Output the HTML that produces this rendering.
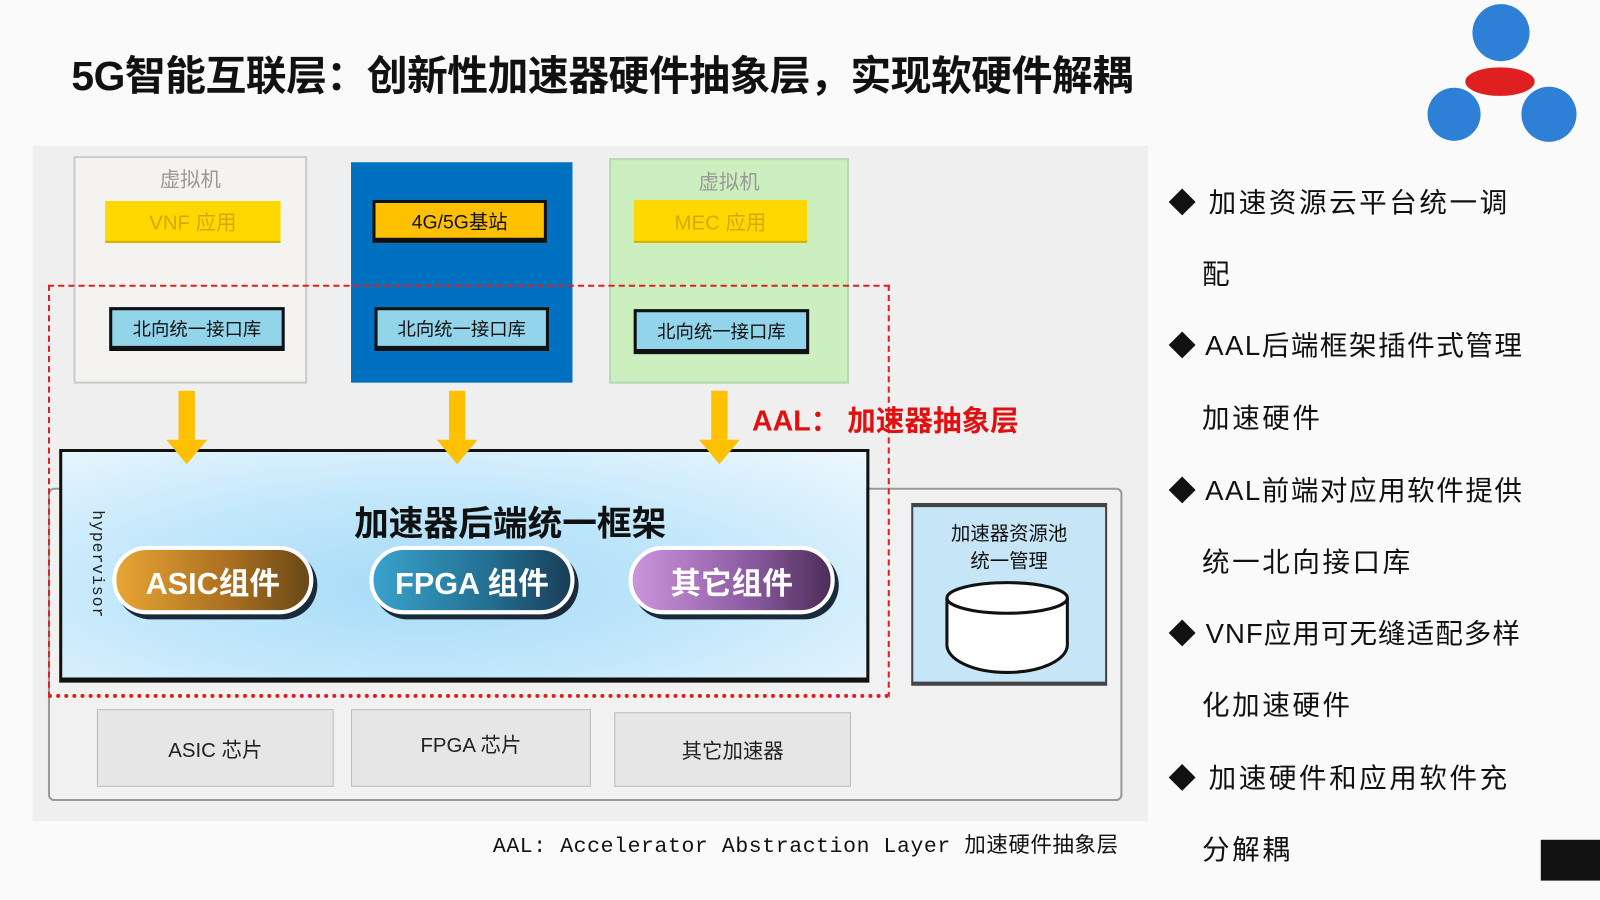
<!DOCTYPE html>
<html><head><meta charset="utf-8"><style>
body{margin:0;width:1600px;height:900px;overflow:hidden;background:#fafafa;font-family:"Liberation Sans","Noto Sans CJK SC",sans-serif}
#w{position:absolute;left:0;top:0;width:1568px;height:882px;transform:scale(1.0204);transform-origin:0 0}
.a{position:absolute;box-sizing:border-box}
.c{display:flex;align-items:center;justify-content:center;text-align:center}
.nb{background:#92d5ea;border:3px solid #111;border-bottom-width:5px;font-size:18px;color:#111}
.pill{border:4px solid #fff;border-radius:34px;color:#fff;font-weight:bold;font-size:30px;box-shadow:4px 5px 0 #1a2a3a}
.chip{background:#e6e6e6;border:1px solid #bbb;font-size:20px;color:#222}
.bl{position:absolute;left:1145px;font-size:27px;color:#111;white-space:nowrap;letter-spacing:2.5px}
</style></head><body><div id="w">
<div class="a" style="left:70px;top:42px;font-size:40px;font-weight:bold;color:#111;white-space:nowrap;letter-spacing:-0.5px">5G智能互联层：创新性加速器硬件抽象层，实现软硬件解耦</div>

<div class="a" style="left:32px;top:143px;width:1093px;height:662px;background:#efefef"></div>
<div class="a" style="left:47px;top:478px;width:1053px;height:307px;border:2px solid #999;border-radius:6px;background:#f1f1f1"></div>

<div class="a" style="left:72px;top:153px;width:229px;height:223px;background:#f5f3f0;border:2px solid #ccc"></div>
<div class="a c" style="left:72px;top:160px;width:229px;font-size:20px;color:#999">虚拟机</div>
<div class="a c" style="left:103px;top:197px;width:172px;height:41px;background:#ffd800;color:#d9a800;font-size:20px;border-bottom:2px solid #d4b000">VNF 应用</div>
<div class="a c nb" style="left:107px;top:301px;width:172px;height:43px">北向统一接口库</div>

<div class="a" style="left:344px;top:159px;width:217px;height:216px;background:#0070c0"></div>
<div class="a c" style="left:365px;top:196px;width:171px;height:42px;background:#ffc000;border:3px solid #111;border-bottom-width:5px;font-size:19px;color:#111">4G/5G基站</div>
<div class="a c nb" style="left:367px;top:301px;width:171px;height:43px">北向统一接口库</div>

<div class="a" style="left:597px;top:155px;width:235px;height:221px;background:#ccefc0;border:2px solid #b8d8b0"></div>
<div class="a c" style="left:597px;top:162px;width:235px;font-size:20px;color:#999">虚拟机</div>
<div class="a c" style="left:621px;top:196px;width:170px;height:42px;background:#ffd800;color:#d9a800;font-size:20px;border-bottom:2px solid #d4b000">MEC 应用</div>
<div class="a c nb" style="left:621px;top:303px;width:172px;height:44px">北向统一接口库</div>

<div class="a" style="left:47px;top:279px;width:825px;height:405px;border:2px dashed #e02020;border-bottom:4px dotted #e02020"></div>

<div class="a" style="left:58px;top:440px;width:794px;height:229px;border:3px solid #111;border-bottom-width:5px;background:radial-gradient(ellipse at 45% 60%,#a6dbf8 0%,#c4e8fb 50%,#eef8fe 100%)"></div>
<div class="a c" style="left:58px;top:486px;width:884px;font-size:34px;font-weight:bold;color:#111">加速器后端统一框架</div>
<div class="a" style="left:86px;top:500px;writing-mode:vertical-rl;font-family:'Liberation Mono',monospace;font-size:16px;color:#222;letter-spacing:1px">hypervisor</div>
<div class="a c pill" style="left:110px;top:535px;width:197px;height:67px;background:linear-gradient(90deg,#e8a434,#a86e20 60%,#6a4818)">ASIC组件</div>
<div class="a c pill" style="left:362px;top:535px;width:201px;height:67px;background:linear-gradient(90deg,#3aa2cc,#226e90 60%,#1a3e58)">FPGA 组件</div>
<div class="a c pill" style="left:616px;top:535px;width:202px;height:67px;background:linear-gradient(90deg,#cc94dc,#8a5aa0 60%,#4c2e58)">其它组件</div>

<div class="a" style="left:893px;top:493px;width:192px;height:179px;background:#c6e6f8;border:2px solid #444;border-top-width:4px;border-bottom-width:4px"></div>
<div class="a c" style="left:893px;top:510px;width:192px;font-size:19px;line-height:27px;color:#111">加速器资源池<br>统一管理</div>

<svg class="a" style="left:0;top:0" width="1568" height="882">
<g fill="#ffc000">
<rect x="175" y="383" width="16" height="48"/><polygon points="163,431 203,431 183,455"/>
<rect x="440" y="383" width="16" height="48"/><polygon points="428,431 468,431 448,455"/>
<rect x="697" y="383" width="16" height="48"/><polygon points="685,431 725,431 705,455"/>
</g>
<ellipse cx="987" cy="632" rx="59" ry="27" fill="#fff" stroke="#111" stroke-width="3"/>
<rect x="928" y="586" width="118" height="46" fill="#fff"/>
<line x1="928" y1="586" x2="928" y2="632" stroke="#111" stroke-width="3"/>
<line x1="1046" y1="586" x2="1046" y2="632" stroke="#111" stroke-width="3"/>
<ellipse cx="987" cy="586" rx="59" ry="15" fill="#fff" stroke="#111" stroke-width="3"/>
<circle cx="1471" cy="32" r="28" fill="#2e7fd6"/>
<ellipse cx="1470" cy="80" rx="34" ry="14" fill="#e02020"/>
<circle cx="1425" cy="112" r="26" fill="#2e7fd6"/>
<circle cx="1518" cy="112" r="27" fill="#2e7fd6"/>
<rect x="1510" y="823" width="58" height="40" fill="#111"/>
</svg>
<div class="a" style="left:737px;top:391px;font-size:28px;font-weight:bold;color:#e01010;white-space:nowrap">AAL： 加速器抽象层</div>

<div class="a c chip" style="left:95px;top:695px;width:232px;height:76px">ASIC 芯片</div>
<div class="a c chip" style="left:344px;top:695px;width:235px;height:76px;padding-bottom:10px">FPGA 芯片</div>
<div class="a c chip" style="left:602px;top:698px;width:232px;height:73px">其它加速器</div>

<div class="a" style="left:483px;top:812px;font-family:'Liberation Mono','Noto Sans CJK SC',monospace;font-size:21px;letter-spacing:0.6px;color:#111;white-space:nowrap">AAL: Accelerator Abstraction Layer 加速硬件抽象层</div>

<div class="bl" style="top:177px">◆ 加速资源云平台统一调</div>
<div class="bl" style="top:247px;left:1178px">配</div>
<div class="bl" style="top:317px;letter-spacing:1.5px">◆ AAL后端框架插件式管理</div>
<div class="bl" style="top:388px;left:1178px">加速硬件</div>
<div class="bl" style="top:459px;letter-spacing:1.5px">◆ AAL前端对应用软件提供</div>
<div class="bl" style="top:529px;left:1178px">统一北向接口库</div>
<div class="bl" style="top:599px;letter-spacing:1px">◆ VNF应用可无缝适配多样</div>
<div class="bl" style="top:669px;left:1178px">化加速硬件</div>
<div class="bl" style="top:741px">◆ 加速硬件和应用软件充</div>
<div class="bl" style="top:811px;left:1178px">分解耦</div>
</div></body></html>
